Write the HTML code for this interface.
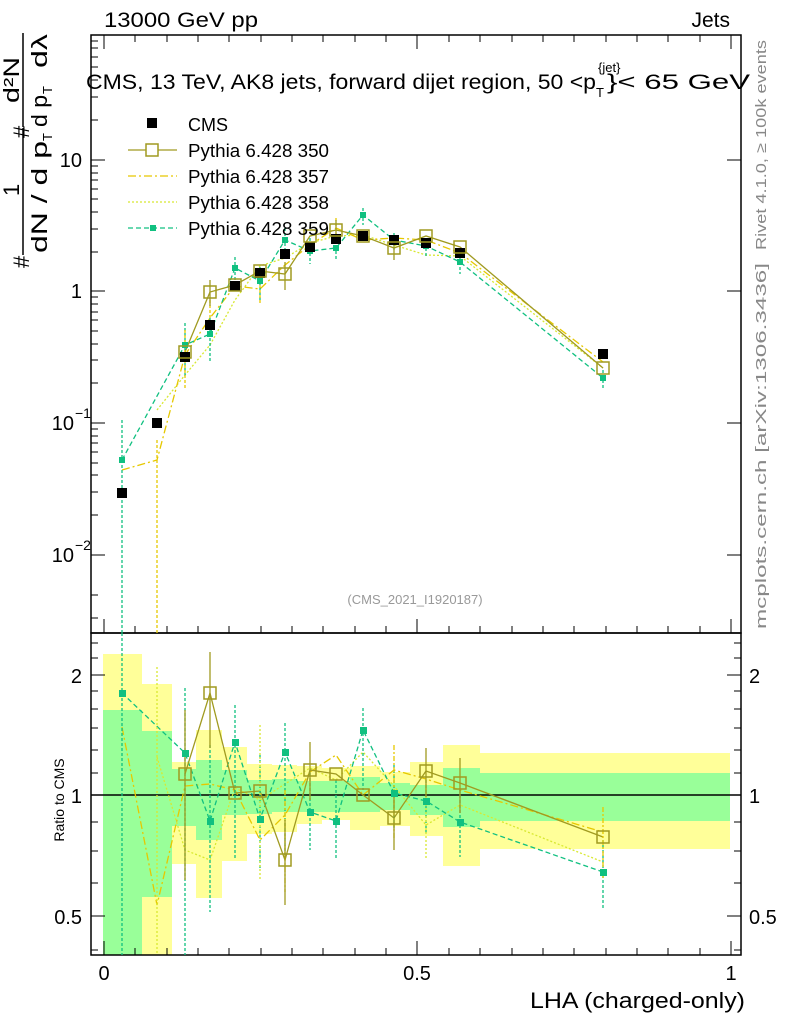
<!DOCTYPE html>
<html><head><meta charset="utf-8"><style>
body{margin:0;background:#fff}
svg{display:block;font-family:"Liberation Sans",sans-serif}
</style></head><body>
<svg width="786" height="1024" viewBox="0 0 786 1024" xmlns="http://www.w3.org/2000/svg">
<g stroke="none">
<path fill="#ffff99" d="M103,654H142V684H172V762H196V730H222V747H247V764H272V765H297V766H322V768H350V766H380V772H410V762H443V745H480V753H730V849H480V866H443V836H410V826H380V830H350V820H322V824H297V832H272V834H247V861H222V898H196V864H172V955H103Z"/>
<path fill="#99ff99" d="M103,710H142V731H172V769H196V760H222V770H247V780H272V779H297V781H322V781H350V777H380V783H410V785H443V768H480V773H730V821H480V827H443V815H410V810H380V812H350V812H322V812H297V812H272V814H247V815H222V840H196V826H172V897H142V955H103Z"/>
</g>
<line x1="91" y1="795" x2="741" y2="795" stroke="#000" stroke-width="1.5"/>
<rect x="91" y="35" width="650" height="598" fill="none" stroke="#000" stroke-width="1.5"/>
<rect x="91" y="633" width="650" height="322" fill="none" stroke="#000" stroke-width="1.5"/>
<g stroke="#000" stroke-width="1">
<path d="M91,160h14M91,291h14M91,423h14M91,555h14M741,160h-14M741,291h-14M741,423h-14M741,555h-14"/>
<path d="M91,120h7M91,97h7M91,80h7M91,67h7M91,57h7M91,48h7M91,41h7M91,252h7M91,229h7M91,212h7M91,199h7M91,189h7M91,180h7M91,173h7M91,166h7M91,383h7M91,360h7M91,344h7M91,331h7M91,320h7M91,312h7M91,304h7M91,297h7M91,515h7M91,492h7M91,475h7M91,463h7M91,452h7M91,443h7M91,436h7M91,429h7M91,595h7M91,618h7"/>
<path d="M104,633v-14M417,633v-14M731,633v-14M104,955v-14M417,955v-14M731,955v-14M104,35v14M417,35v14M731,35v14"/>
<path d="M135,955v-7M167,955v-7M198,955v-7M229,955v-7M261,955v-7M292,955v-7M323,955v-7M355,955v-7M386,955v-7M449,955v-7M480,955v-7M512,955v-7M543,955v-7M574,955v-7M606,955v-7M637,955v-7M668,955v-7M700,955v-7"/>
<path d="M135,633v-7M167,633v-7M198,633v-7M229,633v-7M261,633v-7M292,633v-7M323,633v-7M355,633v-7M386,633v-7M449,633v-7M480,633v-7M512,633v-7M543,633v-7M574,633v-7M606,633v-7M637,633v-7M668,633v-7M700,633v-7"/>
<path d="M135,35v7M167,35v7M198,35v7M229,35v7M261,35v7M292,35v7M323,35v7M355,35v7M386,35v7M449,35v7M480,35v7M512,35v7M543,35v7M574,35v7M606,35v7M637,35v7M668,35v7M700,35v7"/>
<path d="M91,675h14M91,795h14M91,916h14M741,675h-14M741,795h-14M741,916h-14"/>
<path d="M91,643h7M91,658h7M91,691h7M91,709h7M91,728h7M91,750h7M91,773h7M91,822h7M91,851h7M91,883h7M91,950h7M741,643h-7M741,658h-7M741,691h-7M741,709h-7M741,728h-7M741,750h-7M741,773h-7M741,822h-7M741,851h-7M741,883h-7M741,950h-7"/>
</g>
<g fill="none" stroke-width="1.3">
<polyline stroke="#d8e830" stroke-dasharray="2,2" points="157,410 185,375 210,345 235,300 260,266 285,258 310,243 336,236 363,235 394,245 426,255 460,256 603,368"/>
<polyline stroke="#e6c800" stroke-dasharray="8,3,2,3" points="122,470 157,460 185,355 210,318 235,286 260,289 285,265 310,245 336,228 363,240 394,238 426,240 460,253 603,362"/>
<polyline stroke="#10c080" stroke-dasharray="5,3" points="122,460 185,345 210,334 235,268 260,281 285,240 310,251 336,248 363,215 394,240 426,246 460,262 603,378"/>
<polyline stroke="#a09a20" points="185,352 210,292 235,285 260,271 285,274 310,236 336,230 363,236 394,248 426,236 460,247 603,368"/>
<path stroke="#10c080" stroke-dasharray="3,2" d="M122,420V633M185,323V378M210,318V362M235,257V280M260,267V302M285,228V254M310,238V264M336,236V260M363,208V225M394,233V250M426,238V256M460,252V274M603,370V390"/>
<path stroke="#e6c800" stroke-dasharray="3,2" d="M157,440V633M210,300V330M336,218V238M185,330V390M260,280V305"/>
<path stroke="#a09a20" d="M210,280V306M285,262V290M336,220V240M394,236V260"/>
</g>
<g fill="#10c080"><rect x="119" y="457" width="6" height="6"/><rect x="182" y="342" width="6" height="6"/><rect x="207" y="331" width="6" height="6"/><rect x="232" y="265" width="6" height="6"/><rect x="257" y="278" width="6" height="6"/><rect x="282" y="237" width="6" height="6"/><rect x="307" y="248" width="6" height="6"/><rect x="333" y="245" width="6" height="6"/><rect x="360" y="212" width="6" height="6"/><rect x="391" y="237" width="6" height="6"/><rect x="423" y="243" width="6" height="6"/><rect x="457" y="259" width="6" height="6"/><rect x="600" y="375" width="6" height="6"/></g>
<g fill="#000"><rect x="117" y="488" width="10" height="10"/><rect x="152" y="418" width="10" height="10"/><rect x="180" y="352" width="10" height="10"/><rect x="205" y="320" width="10" height="10"/><rect x="230" y="281" width="10" height="10"/><rect x="255" y="268" width="10" height="10"/><rect x="280" y="249" width="10" height="10"/><rect x="305" y="242" width="10" height="10"/><rect x="331" y="234" width="10" height="10"/><rect x="358" y="231" width="10" height="10"/><rect x="389" y="235" width="10" height="10"/><rect x="421" y="238" width="10" height="10"/><rect x="455" y="248" width="10" height="10"/><rect x="598" y="349" width="10" height="10"/></g>
<g fill="none" stroke="#a09a20" stroke-width="1.5"><rect x="179" y="346" width="12" height="12"/><rect x="204" y="286" width="12" height="12"/><rect x="229" y="279" width="12" height="12"/><rect x="254" y="265" width="12" height="12"/><rect x="279" y="268" width="12" height="12"/><rect x="304" y="230" width="12" height="12"/><rect x="330" y="224" width="12" height="12"/><rect x="357" y="230" width="12" height="12"/><rect x="388" y="242" width="12" height="12"/><rect x="420" y="230" width="12" height="12"/><rect x="454" y="241" width="12" height="12"/><rect x="597" y="362" width="12" height="12"/></g>
<rect x="147" y="118" width="10" height="10" fill="#000"/>
<line x1="128" y1="150" x2="177" y2="150" stroke="#a09a20" stroke-width="1.3"/><rect x="146" y="144" width="12" height="12" fill="#fff" stroke="#a09a20" stroke-width="1.5"/>
<line x1="128" y1="176" x2="177" y2="176" stroke="#e6c800" stroke-width="1.3" stroke-dasharray="8,3,2,3"/>
<line x1="128" y1="202" x2="177" y2="202" stroke="#d8e830" stroke-width="1.3" stroke-dasharray="2,2"/>
<line x1="128" y1="228" x2="177" y2="228" stroke="#10c080" stroke-width="1.3" stroke-dasharray="5,3"/><rect x="150" y="225" width="6" height="6" fill="#10c080"/>
<g font-size="18" fill="#000"><text x="188" y="131">CMS</text><text x="188" y="157" textLength="141" lengthAdjust="spacingAndGlyphs">Pythia 6.428 350</text><text x="188" y="183" textLength="141" lengthAdjust="spacingAndGlyphs">Pythia 6.428 357</text><text x="188" y="209" textLength="141" lengthAdjust="spacingAndGlyphs">Pythia 6.428 358</text><text x="188" y="235" textLength="141" lengthAdjust="spacingAndGlyphs">Pythia 6.428 359</text></g>
<!-- ratio series -->
<g fill="none" stroke-width="1.3">
<polyline stroke="#d8e830" stroke-dasharray="2,2" points="157,757 185,850 210,860 235,788 260,800 285,784 310,768 336,780 363,752 394,786 426,825 460,805 603,862"/>
<polyline stroke="#e6c800" stroke-dasharray="8,3,2,3" points="122,727 157,905 185,786 210,784 235,790 260,840 285,815 310,772 336,755 363,795 394,770 426,779 460,790 603,832"/>
<polyline stroke="#10c080" stroke-dasharray="5,3" points="122,693 185,753 210,821 235,742 260,819 285,752 310,812 336,821 363,730 394,793 426,801 460,822 603,872"/>
<polyline stroke="#a09a20" points="185,774 210,693 235,793 260,791 285,860 310,770 336,774 363,795 394,818 426,771 460,783 603,837"/>
<path stroke="#10c080" stroke-dasharray="3,2" d="M122,633V955M185,688V955M210,745V912M235,705V860M260,755V870M285,723V855M310,773V850M336,780V858M363,708V790M394,765V830M426,780V835M460,790V857M603,840V910"/>
<path stroke="#d8e830" stroke-dasharray="2,2" d="M157,667V955M260,725V880M426,780V860"/>
<path stroke="#e6c800" stroke-dasharray="5,2,2,2" d="M285,790V892M394,745V838M603,807V880"/>
<path stroke="#a09a20" d="M210,652V748M285,820V905M310,742V800M394,790V850M426,748V797M460,758V813M185,710V880"/>
</g>
<g fill="#10c080"><rect x="119" y="690" width="7" height="7"/><rect x="182" y="750" width="7" height="7"/><rect x="207" y="818" width="7" height="7"/><rect x="232" y="739" width="7" height="7"/><rect x="257" y="816" width="7" height="7"/><rect x="282" y="749" width="7" height="7"/><rect x="307" y="809" width="7" height="7"/><rect x="333" y="818" width="7" height="7"/><rect x="360" y="727" width="7" height="7"/><rect x="391" y="790" width="7" height="7"/><rect x="423" y="798" width="7" height="7"/><rect x="457" y="819" width="7" height="7"/><rect x="600" y="869" width="7" height="7"/></g>
<g fill="none" stroke="#a09a20" stroke-width="1.5"><rect x="179" y="768" width="12" height="12"/><rect x="204" y="687" width="12" height="12"/><rect x="229" y="787" width="12" height="12"/><rect x="254" y="785" width="12" height="12"/><rect x="279" y="854" width="12" height="12"/><rect x="304" y="764" width="12" height="12"/><rect x="330" y="768" width="12" height="12"/><rect x="357" y="789" width="12" height="12"/><rect x="388" y="812" width="12" height="12"/><rect x="420" y="765" width="12" height="12"/><rect x="454" y="777" width="12" height="12"/><rect x="597" y="831" width="12" height="12"/></g>
<g font-size="20" fill="#000">
<text x="104" y="27" font-size="21" textLength="154" lengthAdjust="spacingAndGlyphs">13000 GeV pp</text>
<text x="730" y="27" font-size="21" text-anchor="end">Jets</text>
<text x="82" y="167" text-anchor="end">10</text>
<text x="82" y="298" text-anchor="end">1</text>
<text x="74" y="430" text-anchor="end">10</text><text x="75" y="418" font-size="14">−1</text>
<text x="74" y="562" text-anchor="end">10</text><text x="75" y="550" font-size="14">−2</text>
<text x="82" y="683" text-anchor="end">2</text>
<text x="82" y="803" text-anchor="end">1</text>
<text x="82" y="924" text-anchor="end">0.5</text>
<text x="749" y="683">2</text>
<text x="749" y="803">1</text>
<text x="749" y="924">0.5</text>
<text x="104" y="980" text-anchor="middle">0</text>
<text x="417" y="980" text-anchor="middle">0.5</text>
<text x="731" y="980" text-anchor="middle">1</text>
<text x="530" y="1008" font-size="22" textLength="215" lengthAdjust="spacingAndGlyphs">LHA (charged-only)</text>
<text x="86" y="89" font-size="21" textLength="510" lengthAdjust="spacingAndGlyphs">CMS, 13 TeV, AK8 jets, forward dijet region, 50 &lt;p</text>
<text x="607" y="89" font-size="21" textLength="143" lengthAdjust="spacingAndGlyphs">}&lt; 65 GeV</text>
</g>
<text x="598" y="72" font-size="13">{jet}</text>
<text x="596" y="97" font-size="13">T</text>
<text x="415" y="604" font-size="13" fill="#999" text-anchor="middle">(CMS_2021_I1920187)</text>
<text transform="translate(64,800) rotate(-90)" font-size="14" text-anchor="middle">Ratio to CMS</text>
<g transform="rotate(-90)" font-size="22" fill="#000">
<text x="-268" y="29">#</text>
<line x1="-255" y1="23" x2="-128" y2="23" stroke="#000" stroke-width="1.5"/>
<text x="-196" y="19">1</text>
<text x="-253" y="47" textLength="112" lengthAdjust="spacingAndGlyphs">dN / d p</text>
<text x="-141" y="52" font-size="13">T</text>
<text x="-138" y="29">#</text>
<line x1="-127" y1="23" x2="-33" y2="23" stroke="#000" stroke-width="1.5"/>
<text x="-103" y="19" textLength="46" lengthAdjust="spacingAndGlyphs">d²N</text>
<text x="-127" y="47" textLength="32" lengthAdjust="spacingAndGlyphs">d p</text>
<text x="-94" y="52" font-size="13">T</text>
<text x="-68" y="47" textLength="34" lengthAdjust="spacingAndGlyphs">dλ</text>
</g>
<text transform="translate(766,145) rotate(-90)" font-size="15" fill="#888" text-anchor="middle" textLength="210" lengthAdjust="spacingAndGlyphs">Rivet 4.1.0, ≥ 100k events</text>
<text transform="translate(766,446) rotate(-90)" font-size="15" fill="#888" text-anchor="middle" textLength="366" lengthAdjust="spacingAndGlyphs">mcplots.cern.ch [arXiv:1306.3436]</text>
</svg>
</body></html>
